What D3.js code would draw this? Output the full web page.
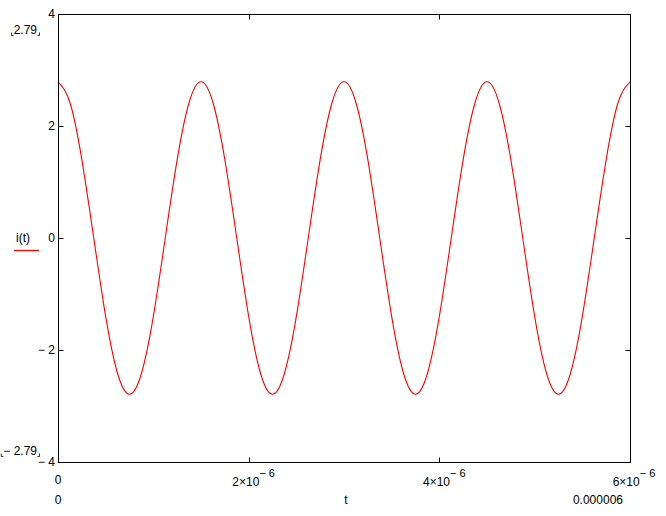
<!DOCTYPE html>
<html><head><meta charset="utf-8">
<script src="https://cdn.jsdelivr.net/npm/d3@7"></script>
<style>
html,body{margin:0;padding:0;background:#fff;}
text{font-family:"Liberation Sans",Arial,sans-serif;font-size:12px;fill:#000;}
</style></head>
<body>
<svg id="c" width="666" height="516"></svg>
<script>
// sample times (s)
const tValues = [0,0.125e-6,0.25e-6,0.375e-6,0.5e-6,0.625e-6,0.75e-6,0.875e-6,1e-6,1.125e-6,1.25e-6,1.375e-6,
  1.5e-6,1.625e-6,1.75e-6,1.875e-6,2e-6,2.125e-6,2.25e-6,2.375e-6,2.5e-6,2.625e-6,2.75e-6,2.875e-6,
  3e-6,3.125e-6,3.25e-6,3.375e-6,3.5e-6,3.625e-6,3.75e-6,3.875e-6,4e-6,4.125e-6,4.25e-6,4.375e-6,
  4.5e-6,4.625e-6,4.75e-6,4.875e-6,5e-6,5.125e-6,5.25e-6,5.375e-6,5.5e-6,5.625e-6,5.75e-6,5.875e-6,6e-6];
// i(t) values
const iValues = [2.79,2.42,1.40,0,-1.40,-2.42,-2.79,-2.42,-1.40,0,1.40,2.42,
  2.79,2.42,1.40,0,-1.40,-2.42,-2.79,-2.42,-1.40,0,1.40,2.42,
  2.79,2.42,1.40,0,-1.40,-2.42,-2.79,-2.42,-1.40,0,1.40,2.42,
  2.79,2.42,1.40,0,-1.40,-2.42,-2.79,-2.42,-1.40,0,1.40,2.42,2.79];
const xTicks = [0,2e-6,4e-6,6e-6];
const xTickLabels = ["0","2","4","6"]; // mantissas of n×10^-6
const yTicks = [-4,-2,0,2,4];
const yTickLabels = ["\u2212 4","\u2212 2","0","2","4"];
const yMarkers = [2.79,-2.79];
const yMarkerLabels = ["2.79","\u2212 2.79"];
const seriesName = "i(t)";
const xName = "t";
const xRangeLabels = ["0","0.000006"];

const svg = d3.select("#c");
const L=58, R=630, T=14, B=462;
const x = d3.scaleLinear().domain([0,6e-6]).range([L,R]);
const y = d3.scaleLinear().domain([-4,4]).range([B,T]);

// curve
const data = tValues.map((t,i)=>({t, v:iValues[i]}));
svg.append("path").datum(data)
  .attr("fill","none").attr("stroke","#ff0000").attr("stroke-width",1.1)
  .attr("d", d3.line().x(d=>x(d.t)).y(d=>y(d.v)).curve(d3.curveNatural));

// frame
svg.append("rect").attr("x",L+0.5).attr("y",T+0.5).attr("width",R-L).attr("height",B-T)
  .attr("fill","none").attr("stroke","#000").attr("stroke-width",1);

// ticks (inward on all four sides)
const tk = 5;
const g = svg.append("g").attr("stroke","#000").attr("stroke-width",1);
xTicks.slice(1,-1).forEach(v=>{
  const px = Math.round(x(v))+0.5;
  g.append("line").attr("x1",px).attr("x2",px).attr("y1",B+0.5).attr("y2",B+0.5-tk);
  g.append("line").attr("x1",px).attr("x2",px).attr("y1",T+0.5).attr("y2",T+0.5+tk);
});
yTicks.slice(1,-1).forEach(v=>{
  const py = Math.round(y(v))+0.5;
  g.append("line").attr("x1",L+0.5).attr("x2",L+0.5+tk).attr("y1",py).attr("y2",py);
  g.append("line").attr("x1",R+0.5).attr("x2",R+0.5-tk).attr("y1",py).attr("y2",py);
});

// y tick labels
yTicks.forEach((v,i)=>{
  let py = y(v)+4;
  if (v===4) py = T+4;
  if (v===-4) py = B+4;
  svg.append("text").attr("x",L-3).attr("y",py).attr("text-anchor","end").text(yTickLabels[i]);
});

// y markers with small corner brackets
yMarkers.forEach((v,i)=>{
  const py = v>0 ? 34 : 455;
  const t = svg.append("text").attr("x",37).attr("y",py).attr("text-anchor","end").text(yMarkerLabels[i]);
  const bb = t.node().getBBox();
  const x0 = bb.x - 2, x1 = 39.5, yb = py+1.5;
  svg.append("path").attr("fill","none").attr("stroke","#000").attr("stroke-width",0.8)
    .attr("d",`M${x0},${yb-3}V${yb}H${x0+2}M${x1-2},${yb}H${x1}V${yb-3}`);
});

// series name with legend line
svg.append("text").attr("x",16).attr("y",242).text(seriesName);
svg.append("line").attr("x1",14).attr("x2",39).attr("y1",250.5).attr("y2",250.5)
  .attr("stroke","#ff0000").attr("stroke-width",1.3);

// x tick labels
xTicks.forEach((v,i)=>{
  const px = x(v);
  if (v===0) {
    svg.append("text").attr("x",px).attr("y",484).attr("text-anchor","middle").text("0");
    return;
  }
  const t = svg.append("text").attr("y",486).attr("text-anchor","middle");
  t.append("tspan").text(xTickLabels[i]+"\u00d710");
  t.append("tspan").attr("dy",-9).attr("font-size","11px").text("\u2212 6");
  t.attr("x", i===xTicks.length-1 ? px+4 : px+5);
});

// x range labels and name
svg.append("text").attr("x",x(0)).attr("y",504).attr("text-anchor","middle").text(xRangeLabels[0]);
svg.append("text").attr("x",623).attr("y",504).attr("text-anchor","end").text(xRangeLabels[1]);
svg.append("text").attr("x",346).attr("y",504).attr("text-anchor","middle").text(xName);
</script>
</body></html>
